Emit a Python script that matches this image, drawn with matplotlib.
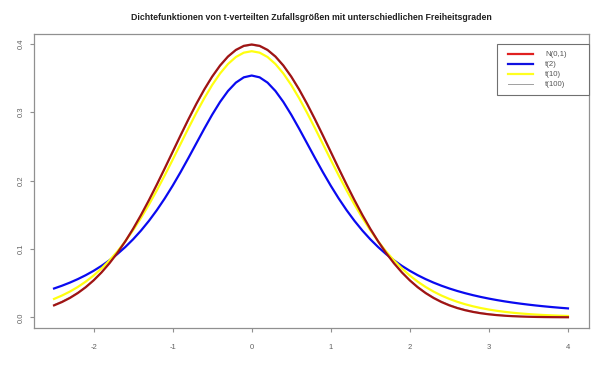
import matplotlib
matplotlib.use("Agg")
import matplotlib.pyplot as plt
from matplotlib.patches import Rectangle
from matplotlib.lines import Line2D

plt.rcParams['font.family'] = ['Liberation Sans', 'DejaVu Sans']

title = "Dichtefunktionen von t-verteilten Zufallsgrößen mit unterschiedlichen Freiheitsgraden"
labels = ["N(0,1)", "t(2)", "t(10)", "t(100)"]
legend_colors = ["#e02020", "#1010e0", "#ffff20", "#a0a0a0"]
x_ticks = [-2, -1, 0, 1, 2, 3, 4]
y_ticks = [0.0, 0.1, 0.2, 0.3, 0.4]
y_ticklabels = ["0.0", "0.1", "0.2", "0.3", "0.4"]

x = [-2.5, -2.4, -2.3, -2.2, -2.1, -2.0, -1.9, -1.8, -1.7, -1.6, -1.5, -1.4, -1.3,
     -1.2, -1.1, -1.0, -0.9, -0.8, -0.7, -0.6, -0.5, -0.4, -0.3, -0.2, -0.1,
     0.0, 0.1, 0.2, 0.3, 0.4, 0.5, 0.6, 0.7, 0.8, 0.9, 1.0, 1.1, 1.2, 1.3, 1.4,
     1.5, 1.6, 1.7, 1.8, 1.9, 2.0, 2.1, 2.2, 2.3, 2.4, 2.5, 2.6, 2.7, 2.8, 2.9,
     3.0, 3.1, 3.2, 3.3, 3.4, 3.5, 3.6, 3.7, 3.8, 3.9, 4.0]

norm = [0.01753, 0.02239, 0.02833, 0.03547, 0.04398, 0.05399, 0.06562, 0.07895,
        0.09405, 0.11092, 0.12952, 0.14973, 0.17137, 0.19419, 0.21785, 0.24197,
        0.26609, 0.28969, 0.31225, 0.33322, 0.35207, 0.36827, 0.38139, 0.39104,
        0.39695, 0.39894, 0.39695, 0.39104, 0.38139, 0.36827, 0.35207, 0.33322,
        0.31225, 0.28969, 0.26609, 0.24197, 0.21785, 0.19419, 0.17137, 0.14973,
        0.12952, 0.11092, 0.09405, 0.07895, 0.06562, 0.05399, 0.04398, 0.03547,
        0.02833, 0.02239, 0.01753, 0.01358, 0.01042, 0.00792, 0.00595, 0.00443,
        0.00327, 0.00238, 0.00172, 0.00123, 0.00087, 0.00061, 0.00042, 0.00029,
        0.00020, 0.00013]

t2 = [0.04220, 0.04626, 0.05080, 0.05590, 0.06162, 0.06804, 0.07526, 0.08337,
      0.09248, 0.10270, 0.11414, 0.12690, 0.14108, 0.15673, 0.17388, 0.19245,
      0.21230, 0.23313, 0.25450, 0.27582, 0.29630, 0.31501, 0.33096, 0.34321,
      0.35092, 0.35355, 0.35092, 0.34321, 0.33096, 0.31501, 0.29630, 0.27582,
      0.25450, 0.23313, 0.21230, 0.19245, 0.17388, 0.15673, 0.14108, 0.12690,
      0.11414, 0.10270, 0.09248, 0.08337, 0.07526, 0.06804, 0.06162, 0.05590,
      0.05080, 0.04626, 0.04220, 0.03857, 0.03532, 0.03240, 0.02977, 0.02741,
      0.02528, 0.02335, 0.02161, 0.02003, 0.01859, 0.01728, 0.01609, 0.01500,
      0.01401, 0.01309]

t10 = [0.02694, 0.03189, 0.03766, 0.04438, 0.05217, 0.06115, 0.07142, 0.08312,
       0.09632, 0.11108, 0.12745, 0.14539, 0.16486, 0.18567, 0.20761, 0.23035,
       0.25353, 0.27662, 0.29909, 0.32033, 0.33970, 0.35658, 0.37040, 0.38066,
       0.38698, 0.38911, 0.38698, 0.38066, 0.37040, 0.35658, 0.33970, 0.32033,
       0.29909, 0.27662, 0.25353, 0.23035, 0.20761, 0.18567, 0.16486, 0.14539,
       0.12745, 0.11108, 0.09632, 0.08312, 0.07142, 0.06115, 0.05217, 0.04438,
       0.03766, 0.03189, 0.02694, 0.02273, 0.01915, 0.01612, 0.01356, 0.01140,
       0.00959, 0.00806, 0.00677, 0.00569, 0.00479, 0.00403, 0.00339, 0.00285,
       0.00241, 0.00203]

t100 = [0.01863, 0.02353, 0.02946, 0.03657, 0.04502, 0.05491, 0.06640, 0.07953,
        0.09440, 0.11103, 0.12937, 0.14932, 0.17072, 0.19331, 0.21679, 0.24075,
        0.26479, 0.28836, 0.31090, 0.33190, 0.35081, 0.36708, 0.38028, 0.38999,
        0.39594, 0.39795, 0.39594, 0.38999, 0.38028, 0.36708, 0.35081, 0.33190,
        0.31090, 0.28836, 0.26479, 0.24075, 0.21679, 0.19331, 0.17072, 0.14932,
        0.12937, 0.11103, 0.09440, 0.07953, 0.06640, 0.05491, 0.04502, 0.03657,
        0.02946, 0.02353, 0.01863, 0.01463, 0.01139, 0.00880, 0.00674, 0.00513,
        0.00387, 0.00290, 0.00215, 0.00159, 0.00116, 0.00085, 0.00061, 0.00044,
        0.00031, 0.00022]

W, H = 605, 371
AX_L, AX_R, AX_T, AX_B = 33.5, 588.5, 33.5, 328.3
fig = plt.figure(figsize=(W / 100, H / 100), dpi=100)
ax = fig.add_axes([AX_L / W, 1 - AX_B / H, (AX_R - AX_L) / W, (AX_B - AX_T) / H])

lw = 1.6
ax.plot(x, t2, color="#0a0af0", lw=lw)
ax.plot(x, t10, color="#ffff10", lw=lw)
ax.plot(x, t100, color="#a0a0a0", lw=0.7)
ax.plot(x, norm, color="#a01414", lw=lw)

ax.set_xlim(-2.76, 4.26)
ax.set_ylim(-0.016, 0.415)
ax.set_xticks(x_ticks)
ax.set_xticklabels([str(v) for v in x_ticks])
ax.set_yticks(y_ticks)
ax.set_yticklabels(y_ticklabels, rotation=90, va='center')

for s in ax.spines.values():
    s.set_color("#909090")
    s.set_linewidth(0.9)
ax.tick_params(axis='both', colors="#909090", labelcolor="#606060",
               labelsize=5.5, length=3, width=0.8, direction='out')
ax.tick_params(axis='x', pad=8)
ax.tick_params(axis='y', pad=3)

ax.set_title(title, fontsize=6.35, fontweight='bold', color='#202020', pad=10)

# legend box drawn in axes-fraction coordinates (R-style legend)
def fx(px):
    return (px - AX_L) / (AX_R - AX_L)

def fy(py):
    return (AX_B - py) / (AX_B - AX_T)

box_l, box_r, box_t, box_b = 496.7, 588.5, 44.0, 94.5
ax.add_patch(Rectangle((fx(box_l), fy(box_b)), fx(box_r) - fx(box_l), fy(box_t) - fy(box_b),
                       transform=ax.transAxes, facecolor='white', edgecolor='#707070',
                       lw=0.8, zorder=5, clip_on=False))
row_y = [54.0, 64.0, 74.0, 84.3]
for i, (lab, col) in enumerate(zip(labels, legend_colors)):
    yy = fy(row_y[i])
    ax.add_line(Line2D([fx(508), fx(533)], [yy, yy], transform=ax.transAxes,
                       color=col, lw=lw if i < 3 else 0.7, zorder=6, clip_on=False))
    ax.text(fx(545), yy, lab, transform=ax.transAxes, fontsize=5.6, color='#555555',
            va='center', ha='left', zorder=6)

fig.savefig("out.png", dpi=100)
